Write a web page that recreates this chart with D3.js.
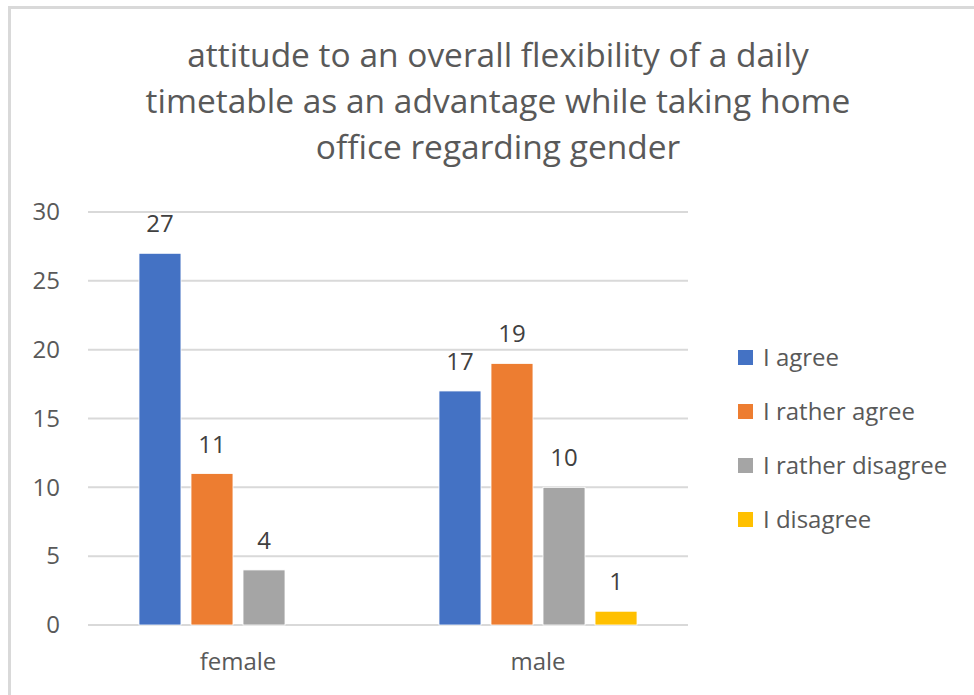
<!DOCTYPE html>
<html>
<head>
<meta charset="utf-8">
<script src="https://cdn.jsdelivr.net/npm/d3@7"></script>
<style>
  body { margin: 0; background: #fff; }
  svg { display: block; font-family: "Open Sans", sans-serif; }
</style>
</head>
<body>
<svg id="chart" width="974" height="695"></svg>
<script>
// data
const categories = ["female", "male"];
const seriesNames = ["I agree", "I rather agree", "I rather disagree", "I disagree"];
const seriesColors = ["#4472C4", "#ED7D31", "#A5A5A5", "#FFC000"];
// one array per series, in category order (null = no bar)
const agree = [27, 17];
const ratherAgree = [11, 19];
const ratherDisagree = [4, 10];
const disagree = [null, 1];
const yTicks = [0, 5, 10, 15, 20, 25, 30];
const titleLines = [
  "attitude to an overall flexibility of a daily",
  "timetable as an advantage while taking home",
  "office regarding gender"
];

const values = [agree, ratherAgree, ratherDisagree, disagree];

const svg = d3.select("#chart");

// chart frame (only top and left edges show in the crop)
svg.append("rect")
  .attr("x", 9.5).attr("y", 7.5)
  .attr("width", 1000).attr("height", 800)
  .attr("fill", "none")
  .attr("stroke", "#d9d9d9")
  .attr("stroke-width", 3);

// title
const title = svg.append("g").attr("fill", "#595959");
title.selectAll("text").data(titleLines).enter().append("text")
  .attr("x", 498)
  .attr("y", (d, i) => 67 + i * 46)
  .attr("text-anchor", "middle")
  .attr("font-size", 30)
  .text(d => d);
// shrink to the width of the original title
const w2 = title.selectAll("text").nodes()[1].getComputedTextLength();
title.selectAll("text").attr("font-size", 30 * 705 / w2);

// scales
const y = d3.scaleLinear().domain([0, 30]).range([625, 212]);
const x0 = d3.scaleBand().domain(categories).range([88, 688])
  .paddingInner(0.273).paddingOuter(0.1365);
const x1 = d3.scaleBand().domain(seriesNames).range([0, x0.bandwidth()])
  .padding(0.193);

// gridlines
svg.append("g").selectAll("line").data(yTicks).enter().append("line")
  .attr("x1", 88).attr("x2", 688)
  .attr("y1", d => y(d)).attr("y2", d => y(d))
  .attr("stroke", "#d9d9d9")
  .attr("stroke-width", 2);

// y axis labels
const yAxis = svg.append("g")
  .attr("transform", "translate(60,0)")
  .call(d3.axisLeft(y).tickValues(yTicks).tickSize(0).tickPadding(0));
yAxis.select(".domain").remove();
yAxis.selectAll("text")
  .attr("fill", "#595959")
  .attr("font-size", 24)
  .attr("font-family", "Open Sans, sans-serif");

// x axis labels
const xAxis = svg.append("g")
  .attr("transform", "translate(0,625)")
  .call(d3.axisBottom(x0).tickSize(0).tickPadding(0));
xAxis.select(".domain").remove();
xAxis.selectAll("text")
  .attr("dy", null)
  .attr("y", 45)
  .attr("fill", "#595959")
  .attr("font-size", 24)
  .attr("font-family", "Open Sans, sans-serif");

// bars
const points = [];
categories.forEach((c, ci) => {
  seriesNames.forEach((s, si) => {
    const v = values[si][ci];
    if (v != null) points.push({ c, s, v, color: seriesColors[si] });
  });
});

svg.append("g").selectAll("rect").data(points).enter().append("rect")
  .attr("x", d => x0(d.c) + x1(d.s))
  .attr("y", d => y(d.v))
  .attr("width", x1.bandwidth())
  .attr("height", d => y(0) - y(d.v))
  .attr("fill", d => d.color)
  .attr("stroke", "#fff")
  .attr("stroke-width", 0.8);

// value labels
svg.append("g").selectAll("text").data(points).enter().append("text")
  .attr("x", d => x0(d.c) + x1(d.s) + x1.bandwidth() / 2)
  .attr("y", d => y(d.v) - 21)
  .attr("text-anchor", "middle")
  .attr("font-size", 24)
  .attr("fill", "#404040")
  .text(d => d.v);

// legend
const legend = svg.append("g").selectAll("g").data(seriesNames).enter().append("g")
  .attr("transform", (d, i) => `translate(738,${357.5 + i * 54})`);
legend.append("rect")
  .attr("x", 0).attr("y", -7.5)
  .attr("width", 15).attr("height", 15)
  .attr("fill", (d, i) => seriesColors[i]);
legend.append("text")
  .attr("x", 25).attr("y", 8)
  .attr("font-size", 24)
  .attr("fill", "#595959")
  .text(d => d);
</script>
</body>
</html>
